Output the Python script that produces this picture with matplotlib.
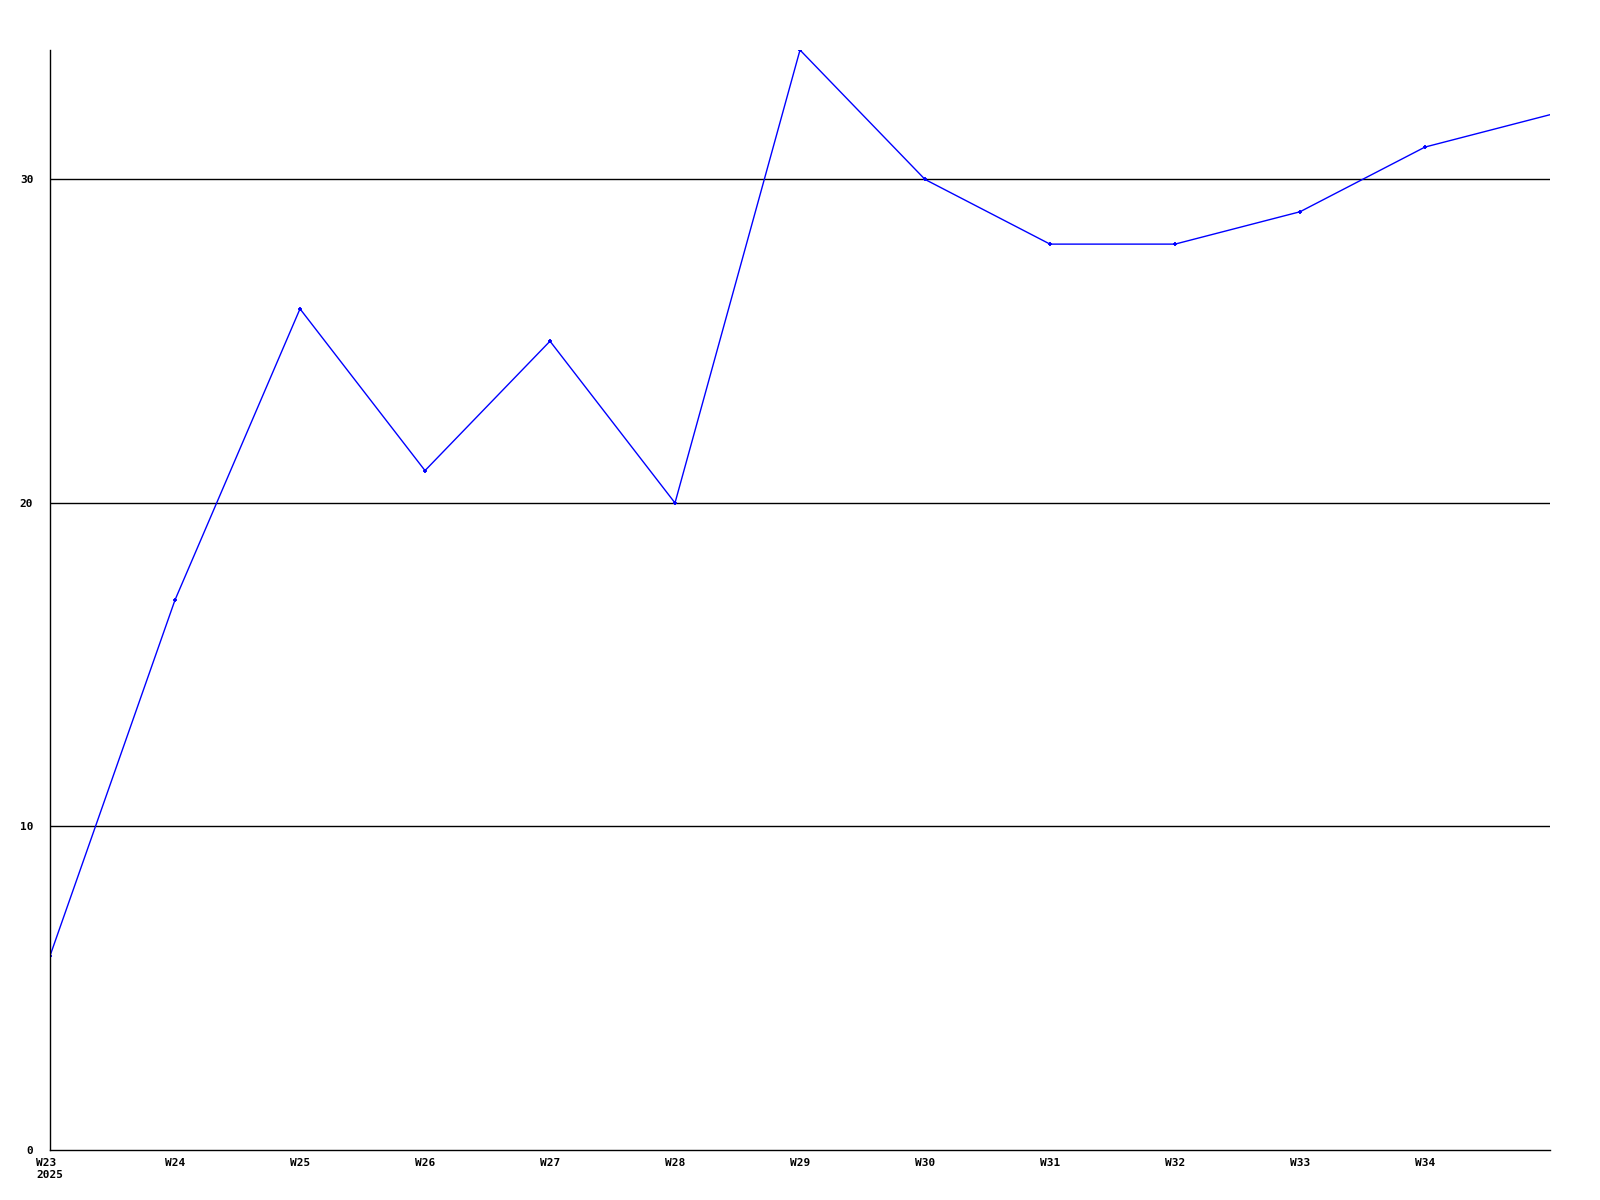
import matplotlib
matplotlib.use("Agg")
import matplotlib.pyplot as plt

weeks = ["W23", "W24", "W25", "W26", "W27", "W28", "W29", "W30", "W31", "W32", "W33", "W34", "W35"]
values = [6, 17, 26, 21, 25, 20, 34, 30, 28, 28, 29, 31, 32]
tick_labels = ["W23\n2025", "W24", "W25", "W26", "W27", "W28", "W29", "W30", "W31", "W32", "W33", "W34"]
y_ticks = [0, 10, 20, 30]

fig = plt.figure(figsize=(16, 12), dpi=100)
ax = fig.add_axes([0.03125, 0.041667, 0.9375, 0.916667])

x = list(range(len(weeks)))
# last point sits on the right edge and has no marker
ax.plot(x, values, color="#0000ff", linewidth=1, marker="+", markersize=3.5, markeredgewidth=1.3,
        markevery=list(range(len(weeks) - 1)))

for y in y_ticks[1:]:
    ax.axhline(y, color="black", linewidth=1, zorder=0)

ax.set_xlim(0, len(weeks) - 1)
ax.set_ylim(0, 34)

ax.set_xticks(x[:-1])
ax.set_xticklabels(tick_labels, fontfamily="DejaVu Sans Mono", fontweight="bold", fontsize=8,
                   ha="center", multialignment="left")
ax.set_yticks(y_ticks)
ax.set_yticklabels([str(v) for v in y_ticks], fontfamily="DejaVu Sans Mono", fontweight="bold", fontsize=8)
ax.tick_params(axis="both", length=0)
ax.tick_params(axis="y", pad=12)
ax.tick_params(axis="x", pad=6)

ax.spines["top"].set_visible(False)
ax.spines["right"].set_visible(False)
ax.spines["left"].set_linewidth(1)
ax.spines["bottom"].set_linewidth(1)

fig.savefig("out.png", dpi=100)
